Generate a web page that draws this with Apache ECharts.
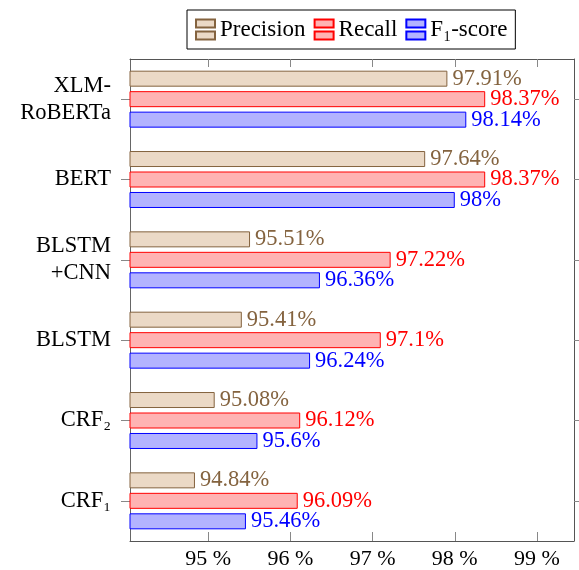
<!DOCTYPE html>
<html>
<head>
<meta charset="utf-8">
<script src="https://cdn.jsdelivr.net/npm/echarts@6/dist/echarts.min.js"></script>
<style>
html, body { margin: 0; padding: 0; background: #fff; }
#chart { width: 579px; height: 570px; }
</style>
</head>
<body>
<div id="chart"></div>
<script>
// bottom to top
var models = ['CRF₁', 'CRF₂', 'BLSTM', 'BLSTM\n+CNN', 'BERT', 'XLM-\nRoBERTa'];
var precision = [94.84, 95.08, 95.41, 95.51, 97.64, 97.91];
var recall = [96.09, 96.12, 97.1, 97.22, 98.37, 98.37];
var f1 = [95.46, 95.6, 96.24, 96.36, 98, 98.14];
var xTicks = [95, 96, 97, 98, 99];

var font = 'Liberation Serif';
var brown = '#84633f';
var legendIcon = 'path://M0,0H19V8H0Z M0,12H19V20H0Z';

function barSeries(name, values, fill, stroke) {
    return {
        name: name,
        type: 'bar',
        data: values,
        barWidth: 16,
        barGap: '28%',
        itemStyle: { color: fill, borderColor: stroke, borderWidth: 1 },
        label: {
            show: true,
            position: 'right',
            distance: 5,
            color: stroke,
            fontFamily: font,
            fontSize: 22.5,
            formatter: function (p) { return p.value + '%'; }
        }
    };
}

var chart = echarts.init(document.getElementById('chart'));
chart.setOption({
    animation: false,
    textStyle: { fontFamily: font },
    legend: {
        data: ['Precision', 'Recall', 'F₁-score'],
        left: 187,
        top: 10,
        padding: [8, 8],
        borderColor: '#000',
        borderWidth: 1,
        itemWidth: 19,
        itemHeight: 20,
        itemGap: 8,
        icon: legendIcon,
        textStyle: { fontFamily: font, fontSize: 23, color: '#000' }
    },
    grid: { left: 130, right: 5, top: 59, bottom: 28 },
    xAxis: [
        {
            type: 'value',
            min: 94.05,
            max: 99.45,
            position: 'bottom',
            splitLine: { show: false },
            axisLine: { show: true, lineStyle: { color: '#555' } },
            axisTick: { show: true, inside: true, length: 9, customValues: xTicks, lineStyle: { color: '#888' } },
            axisLabel: {
                customValues: xTicks,
                margin: 7,
                color: '#000',
                fontSize: 22,
                fontFamily: font,
                formatter: function (v) { return v + ' %'; }
            }
        },
        {
            type: 'value',
            min: 94.05,
            max: 99.45,
            position: 'top',
            splitLine: { show: false },
            axisLine: { show: true, lineStyle: { color: '#555' } },
            axisTick: { show: true, inside: true, length: 8, customValues: xTicks, lineStyle: { color: '#888' } },
            axisLabel: { show: false }
        }
    ],
    yAxis: [
        {
            type: 'category',
            data: models,
            position: 'left',
            axisLine: { show: true, lineStyle: { color: '#666' } },
            axisTick: { show: true, alignWithLabel: true, length: 9, lineStyle: { color: '#888' } },
            axisLabel: {
                margin: 19,
                color: '#000',
                fontSize: 22.5,
                lineHeight: 27,
                fontFamily: font,
                align: 'right'
            }
        },
        {
            type: 'category',
            data: models,
            position: 'right',
            axisLine: { show: true, lineStyle: { color: '#555' } },
            axisTick: { show: true, alignWithLabel: true, length: 5, lineStyle: { color: '#888' } },
            axisLabel: { show: false }
        }
    ],
    series: [
        barSeries('Precision', precision, '#ebd9c6', brown),
        barSeries('Recall', recall, '#ffb3b3', '#ff0000'),
        barSeries('F₁-score', f1, '#b3b3ff', '#0000ff')
    ]
});
</script>
</body>
</html>
